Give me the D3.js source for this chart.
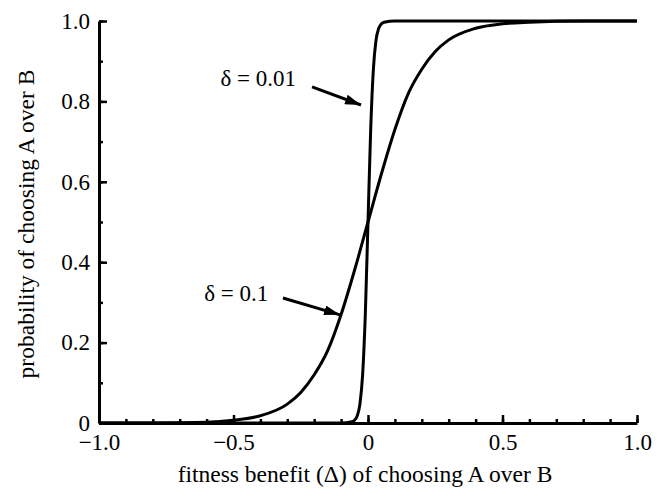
<!DOCTYPE html>
<html>
<head>
<meta charset="utf-8">
<script src="https://cdn.jsdelivr.net/npm/d3@7"></script>
<style>
  body { margin: 0; background: #fff; }
</style>
</head>
<body>
<div id="chart"></div>
<script>
// values
var deltaSteep = [-1.0, -0.1, -0.06, -0.05, -0.04, -0.03, -0.02, -0.01, 0, 0.01, 0.02, 0.03, 0.04, 0.05, 0.06, 0.1, 1.0];
var probSteep = [0, 0, 0.003, 0.007, 0.018, 0.047, 0.12, 0.27, 0.5, 0.73, 0.88, 0.953, 0.982, 0.993, 0.997, 1.0, 1.0];

var deltaShallow = [-1.0, -0.8, -0.6, -0.5, -0.4, -0.3, -0.25, -0.2, -0.15, -0.1, -0.05, 0, 0.05, 0.1, 0.15, 0.2, 0.25, 0.3, 0.4, 0.5, 0.6, 0.8, 1.0];
var probShallow = [0, 0.0003, 0.002, 0.007, 0.018, 0.047, 0.076, 0.12, 0.18, 0.27, 0.38, 0.5, 0.62, 0.73, 0.82, 0.88, 0.924, 0.953, 0.982, 0.993, 0.997, 1.0, 1.0];

var xMajorTicks = [-1.0, -0.5, 0, 0.5, 1.0];
var yMajorTicks = [0, 0.2, 0.4, 0.6, 0.8, 1.0];

var annLabels = ["\u03b4 = 0.01", "\u03b4 = 0.1"];

var svgWidth = 667;
var svgHeight = 500;
var serif = '"Liberation Serif", "Times New Roman", serif';

var svg = d3.select("#chart")
  .append("svg")
  .attr("width", svgWidth)
  .attr("height", svgHeight);

var xScale = d3.scaleLinear().domain([-1, 1]).range([99, 637]);
var yScale = d3.scaleLinear().domain([0, 1]).range([423, 21]);

var fmt = function(d) { return d === 0 ? "0" : d3.format(".1f")(d); };

// minor ticks
var xMinor = d3.range(-10, 11).map(function(i) { return i / 10; });
var yMinor = d3.range(0, 11).map(function(i) { return i / 10; });

svg.append("g")
  .attr("transform", "translate(0," + yScale(0) + ")")
  .call(d3.axisBottom(xScale).tickValues(xMinor).tickSizeInner(-4).tickSizeOuter(0).tickFormat(""))
  .call(function(g) { g.select(".domain").remove(); g.selectAll("line").attr("stroke-width", 2.5); });

svg.append("g")
  .attr("transform", "translate(" + xScale(-1) + ",0)")
  .call(d3.axisLeft(yScale).tickValues(yMinor).tickSizeInner(-4).tickSizeOuter(0).tickFormat(""))
  .call(function(g) { g.select(".domain").remove(); g.selectAll("line").attr("stroke-width", 2.5); });

// major ticks + labels
var xAxis = svg.append("g")
  .attr("transform", "translate(0," + yScale(0) + ")")
  .call(d3.axisBottom(xScale).tickValues(xMajorTicks).tickSizeInner(-8).tickSizeOuter(0).tickPadding(11).tickFormat(fmt));
xAxis.select(".domain").attr("stroke-width", 3);
xAxis.selectAll("line").attr("stroke-width", 2.5);
xAxis.selectAll("text").style("font-size", "23px").style("font-family", serif);

var yAxis = svg.append("g")
  .attr("transform", "translate(" + xScale(-1) + ",0)")
  .call(d3.axisLeft(yScale).tickValues(yMajorTicks).tickSizeInner(-8).tickSizeOuter(0).tickPadding(9).tickFormat(fmt));
yAxis.select(".domain").attr("stroke-width", 3);
yAxis.selectAll("line").attr("stroke-width", 2.5);
yAxis.selectAll("text").style("font-size", "23px").style("font-family", serif);

// curves
var line = d3.line()
  .x(function(d) { return xScale(d[0]); })
  .y(function(d) { return yScale(d[1]); })
  .curve(d3.curveMonotoneX);

svg.append("path")
  .attr("d", line(d3.zip(deltaShallow, probShallow)))
  .attr("fill", "none")
  .attr("stroke", "black")
  .attr("stroke-width", 3);

svg.append("path")
  .attr("d", line(d3.zip(deltaSteep, probSteep)))
  .attr("fill", "none")
  .attr("stroke", "black")
  .attr("stroke-width", 3);

// arrows + labels
svg.append("defs").append("marker")
  .attr("id", "head")
  .attr("viewBox", "0 0 16 10")
  .attr("refX", 16).attr("refY", 5)
  .attr("markerWidth", 16).attr("markerHeight", 10)
  .attr("markerUnits", "userSpaceOnUse")
  .attr("orient", "auto")
  .append("path")
  .attr("d", "M0,0 L16,5 L0,10 Z")
  .attr("fill", "black");

var annText = [[-0.408, 0.858], [-0.49, 0.323]];
var annArrow = [[[-0.208, 0.836], [-0.026, 0.791]], [[-0.316, 0.311], [-0.104, 0.269]]];

annLabels.forEach(function(lbl, i) {
  svg.append("text")
    .attr("x", xScale(annText[i][0]))
    .attr("y", yScale(annText[i][1]))
    .attr("text-anchor", "middle")
    .attr("dominant-baseline", "central")
    .style("font-size", "23px")
    .style("font-family", serif)
    .text(lbl);
  svg.append("line")
    .attr("x1", xScale(annArrow[i][0][0])).attr("y1", yScale(annArrow[i][0][1]))
    .attr("x2", xScale(annArrow[i][1][0])).attr("y2", yScale(annArrow[i][1][1]))
    .attr("stroke", "black")
    .attr("stroke-width", 3)
    .attr("marker-end", "url(#head)");
});

// axis titles
svg.append("text")
  .attr("x", 365)
  .attr("y", 482)
  .attr("text-anchor", "middle")
  .style("font-size", "23.5px")
  .style("font-family", serif)
  .text("fitness benefit (\u0394) of choosing A over B");

svg.append("text")
  .attr("transform", "translate(34," + 224 + ") rotate(-90)")
  .attr("text-anchor", "middle")
  .style("font-size", "23.5px")
  .style("font-family", serif)
  .text("probability of choosing A over B");
</script>
</body>
</html>
